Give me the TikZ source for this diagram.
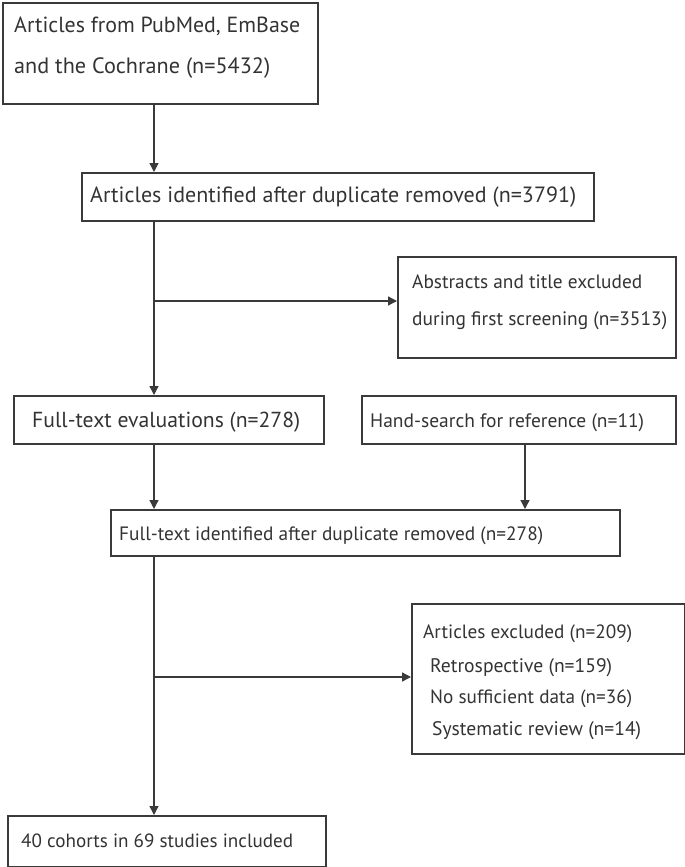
\documentclass[tikz,border=0pt]{standalone}
\usepackage{fontspec}
\setmainfont{PT Sans}
\usetikzlibrary{arrows.meta}
\definecolor{ink}{HTML}{333333}
\definecolor{edge}{HTML}{3A3A3A}
\newcommand{\fw}[2]{\resizebox{#1pt}{!}{#2}}
\begin{document}
\begin{tikzpicture}[x=1pt,y=-1pt,
  box/.style={draw=edge, line width=1.8pt, inner sep=0pt, anchor=north west},
  txt/.style={anchor=base west, inner sep=0pt, text=ink, font=\fontsize{20}{24}\selectfont},
  arr/.style={draw=edge, line width=1.3pt, -{Triangle[length=9pt,width=9pt]}}]
\useasboundingbox (0,0) rectangle (685,867);

% boxes
\node[box, minimum width=315pt, minimum height=101pt] (b1) at (2,2) {};
\node[box, minimum width=512pt, minimum height=48pt]  (b2) at (81,172) {};
\node[box, minimum width=278pt, minimum height=101pt] (b3) at (397,256) {};
\node[box, minimum width=310pt, minimum height=48pt]  (b4) at (13,395) {};
\node[box, minimum width=314pt, minimum height=48pt]  (b5) at (361,395) {};
\node[box, minimum width=509pt, minimum height=46pt]  (b6) at (110,509) {};
\node[box, minimum width=273pt, minimum height=150pt] (b7) at (411,603) {};
\node[box, minimum width=318pt, minimum height=51pt]  (b8) at (7,815) {};

% texts
\node[txt] (t1a) at (14,33) {\fw{286}{Articles from PubMed, EmBase}};
\node[txt] (t1b) at (14,74) {\fw{256}{and the Cochrane (n=5432)}};
\node[txt] (t2)  at (90,202) {\fw{486}{Articles identified after duplicate removed (n=3791)}};
\node[txt] (t3a) at (412,288) {\fw{230}{Abstracts and title excluded}};
\node[txt] (t3b) at (412,325) {\fw{255}{during first screening (n=3513)}};
\node[txt] (t4)  at (32,427) {\fw{268}{Full-text evaluations (n=278)}};
\node[txt] (t5)  at (370,427) {\fw{274}{Hand-search for reference (n=11)}};
\node[txt] (t6)  at (119,540) {\fw{424}{Full-text identified after duplicate removed (n=278)}};
\node[txt] (t7a) at (423,638) {\fw{209}{Articles excluded (n=209)}};
\node[txt] (t7b) at (430,672) {\fw{182}{Retrospective (n=159)}};
\node[txt] (t7c) at (430,703) {\fw{202}{No sufficient data (n=36)}};
\node[txt] (t7d) at (432,735) {\fw{209}{Systematic review (n=14)}};
\node[txt] (t8)  at (21,847) {\fw{272}{40 cohorts in 69 studies included}};

% connectors
\coordinate (sx) at (154,0);
\coordinate (sx5) at (525,0);
\coordinate (j1) at (154,301);
\coordinate (j2) at (154,677);
\draw[arr] (b1.south -| sx) -- (b2.north -| sx);
\draw[arr] (b2.south -| sx) -- (b4.north -| sx);
\draw[arr] (j1) -- (j1 -| b3.west);
\draw[arr] (b4.south -| sx) -- (b6.north -| sx);
\draw[arr] (b5.south -| sx5) -- (b6.north -| sx5);
\draw[arr] (b6.south -| sx) -- (b8.north -| sx);
\draw[arr] (j2) -- (j2 -| b7.west);
\end{tikzpicture}
\end{document}
